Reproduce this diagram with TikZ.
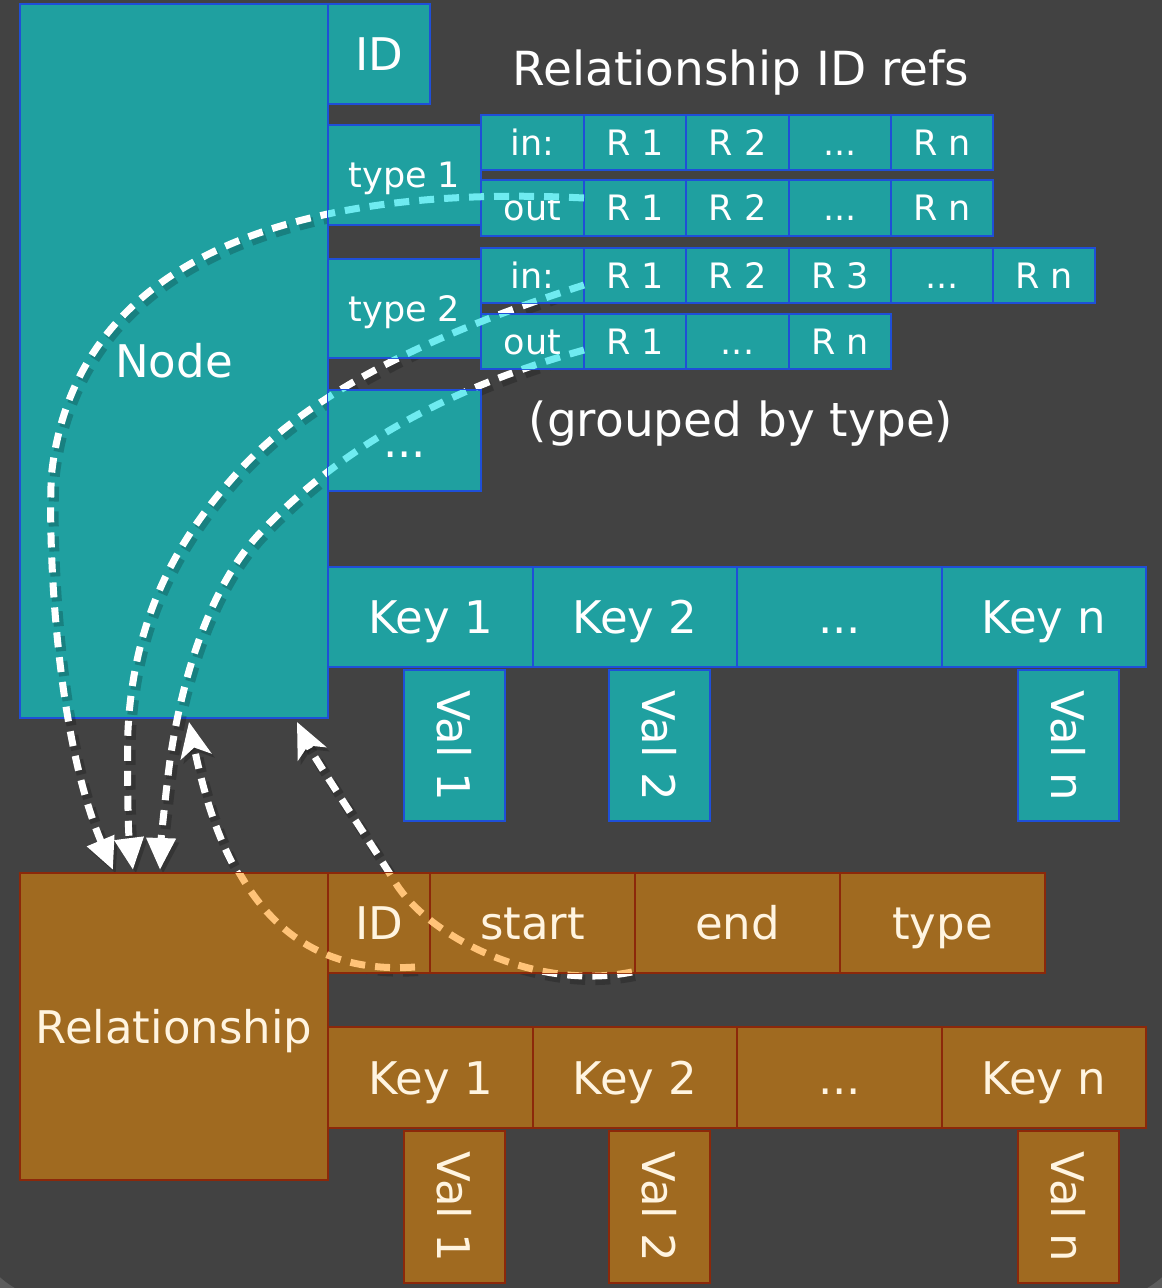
\documentclass[tikz,border=0pt]{standalone}
\usepackage{fontspec}
\setmainfont{DejaVu Sans}
\usepackage{graphicx}
\usetikzlibrary{arrows.meta}
\definecolor{bgdark}{HTML}{424242}
\definecolor{bglight}{HTML}{5C5C5C}
\definecolor{nodeteal}{HTML}{1FA0A0}
\definecolor{nodeblue}{HTML}{1F4FD8}
\definecolor{relbrown}{HTML}{A06A20}
\definecolor{relborder}{HTML}{8C280A}
\definecolor{relcream}{HTML}{FFF4E0}
\definecolor{dashcyan}{HTML}{6EEBF0}
\definecolor{dashorange}{HTML}{FFC378}
\newcommand\bx[7]{\node[#1, minimum width={(#5)-(#3)}, minimum height={(#6)-(#4)}] (#2) at ({((#3)+(#5))/2},{((#4)+(#6))/2}) {#7};}
\newcommand\lnkA{(s1) .. controls (330,185) and (80,240) .. (52,470) .. controls (48,504) and (50,720) .. (e1)}
\newcommand\lnkB{(s2) .. controls (460,325) and (317,383) .. (237,473) .. controls (183,533) and (134,610) .. (128,730) .. controls (127,770) and (128,830) .. (e2)}
\newcommand\lnkC{(s3) .. controls (440,390) and (335,453) .. (260,533) .. controls (212,584) and (183,671) .. (170,760) .. controls (166,790) and (161,840) .. (e3)}
\newcommand\lnkD{(s4) .. controls (260,978) and (214,845) .. (e4)}
\newcommand\lnkE{(s5) .. controls (532,992) and (426,934) .. (395,882) .. controls (374,848) and (314,758) .. (e5)}
\tikzset{
  boxbase/.style={line width=2.5pt, inner sep=0pt, outer sep=0pt, text height=33pt, text depth=0pt, font=\fontsize{45}{52}\selectfont},
  tbox/.style={boxbase, draw=nodeblue, fill=nodeteal, text=white},
  tsmall/.style={tbox, font=\fontsize{35}{42}\selectfont, text height=25.5pt},
  rbox/.style={boxbase, draw=relborder, fill=relbrown, text=relcream},
  vbox/.style={text height=, text depth=},
  lnk/.style={line width=7pt, dash pattern=on 15pt off 10pt},
  lnshadow/.style={lnk, draw=black, opacity=0.2, line width=10pt},
  downtip/.style={-{Triangle[length=32pt,width=28pt]}},
  uptip/.style={-{Stealth[length=35pt,width=31pt,inset=9pt]}},
  heading/.style={text=white, font=\fontsize{47}{54}\selectfont, anchor=base, inner sep=0pt},
}
\begin{document}
\begin{tikzpicture}[x=1pt,y=-1pt]
\useasboundingbox (0,0) rectangle (1162,1288);
\fill[bglight] (0,0) rectangle (1162,1288);
\fill[bgdark, rounded corners=90pt] (-30,-60) rectangle (1192,1300);

% main node box
\bx{tbox}{node}{20}{4}{328}{718}{Node}

% connector end points
\coordinate (s1) at (584,198);
\coordinate (e1) at (113,870);
\coordinate (s2) at (584,285);
\coordinate (e2) at (133,870);
\coordinate (s3) at (584,350);
\coordinate (e3) at (160,870);
\coordinate (s4) at (415,967);
\coordinate (e4) at (189,722);
\coordinate (s5) at (632,972);
\coordinate (e5) at (297,722);

% shadows
\begin{scope}[transform canvas={xshift=3pt,yshift=-4pt}]
\draw[lnshadow, downtip] \lnkA;
\draw[lnshadow, downtip] \lnkB;
\draw[lnshadow, downtip] \lnkC;
\draw[lnshadow, uptip] \lnkD;
\draw[lnshadow, uptip] \lnkE;
\end{scope}
% white connectors
\draw[lnk, white, downtip] \lnkA;
\draw[lnk, white, downtip] \lnkB;
\draw[lnk, white, downtip] \lnkC;
\draw[lnk, white, uptip] \lnkD;
\draw[lnk, white, uptip] \lnkE;

% node parts
\bx{tbox}{nid}{328}{4}{430}{104}{ID}
\bx{tsmall}{ty1}{328}{125}{481}{225}{type 1}
\bx{tsmall}{inA}{481}{115}{584}{170}{in:}
\bx{tsmall}{inAa}{584}{115}{686}{170}{R 1}
\bx{tsmall}{inAb}{686}{115}{789}{170}{R 2}
\bx{tsmall}{inAc}{789}{115}{891}{170}{...}
\bx{tsmall}{inAd}{891}{115}{993}{170}{R n}
\bx{tsmall}{outA}{481}{180}{584}{236}{out}
\bx{tsmall}{outAa}{584}{180}{686}{236}{R 1}
\bx{tsmall}{outAb}{686}{180}{789}{236}{R 2}
\bx{tsmall}{outAc}{789}{180}{891}{236}{...}
\bx{tsmall}{outAd}{891}{180}{993}{236}{R n}
\bx{tsmall}{ty2}{328}{259}{481}{358}{type 2}
\bx{tsmall}{inB}{481}{248}{584}{303}{in:}
\bx{tsmall}{inBa}{584}{248}{686}{303}{R 1}
\bx{tsmall}{inBb}{686}{248}{789}{303}{R 2}
\bx{tsmall}{inBc}{789}{248}{891}{303}{R 3}
\bx{tsmall}{inBd}{891}{248}{993}{303}{...}
\bx{tsmall}{inBe}{993}{248}{1095}{303}{R n}
\bx{tsmall}{outB}{481}{314}{584}{369}{out}
\bx{tsmall}{outBa}{584}{314}{686}{369}{R 1}
\bx{tsmall}{outBb}{686}{314}{789}{369}{...}
\bx{tsmall}{outBc}{789}{314}{891}{369}{R n}
\bx{tbox}{tydots}{328}{390}{481}{491}{...}
\bx{tbox}{nk1}{328}{567}{533}{667}{Key 1}
\bx{tbox}{nk2}{533}{567}{737}{667}{Key 2}
\bx{tbox}{nk3}{737}{567}{942}{667}{...}
\bx{tbox}{nk4}{942}{567}{1146}{667}{Key n}
\bx{tbox,vbox}{nv1}{404}{670}{505}{821}{\rotatebox{-90}{Val 1}}
\bx{tbox,vbox}{nv2}{609}{670}{710}{821}{\rotatebox{-90}{Val 2}}
\bx{tbox,vbox}{nv3}{1018}{670}{1119}{821}{\rotatebox{-90}{Val n}}

% relationship parts
\bx{rbox}{rel}{20}{873}{328}{1180}{Relationship}
\bx{rbox}{rid}{328}{873}{430}{973}{ID}
\bx{rbox}{rstart}{430}{873}{635}{973}{start}
\bx{rbox}{rend}{635}{873}{840}{973}{end}
\bx{rbox}{rtype}{840}{873}{1045}{973}{type}
\bx{rbox}{rk1}{328}{1027}{533}{1128}{Key 1}
\bx{rbox}{rk2}{533}{1027}{737}{1128}{Key 2}
\bx{rbox}{rk3}{737}{1027}{942}{1128}{...}
\bx{rbox}{rk4}{942}{1027}{1146}{1128}{Key n}
\bx{rbox,vbox}{rv1}{404}{1131}{505}{1283}{\rotatebox{-90}{Val 1}}
\bx{rbox,vbox}{rv2}{609}{1131}{710}{1283}{\rotatebox{-90}{Val 2}}
\bx{rbox,vbox}{rv3}{1018}{1131}{1119}{1283}{\rotatebox{-90}{Val n}}

% connectors seen through the teal sub-boxes
\begin{scope}
\clip (328,125) rectangle (481,225) (328,259) rectangle (481,358) (328,390) rectangle (481,491)
      (481,115) rectangle (993,170) (481,180) rectangle (993,236)
      (481,248) rectangle (1095,303) (481,314) rectangle (891,369);
\draw[lnk, dashcyan] \lnkA;
\draw[lnk, dashcyan] \lnkB;
\draw[lnk, dashcyan] \lnkC;
\end{scope}
% connectors seen through the brown boxes
\begin{scope}
\clip (20,873) rectangle (328,1180) (328,873) rectangle (1045,973);
\draw[lnk, dashorange] \lnkD;
\draw[lnk, dashorange] \lnkE;
\end{scope}

\node[heading] (title) at (741,85) {Relationship ID refs};
\node[heading] (grouped) at (741,436) {(grouped by type)};
\end{tikzpicture}
\end{document}
